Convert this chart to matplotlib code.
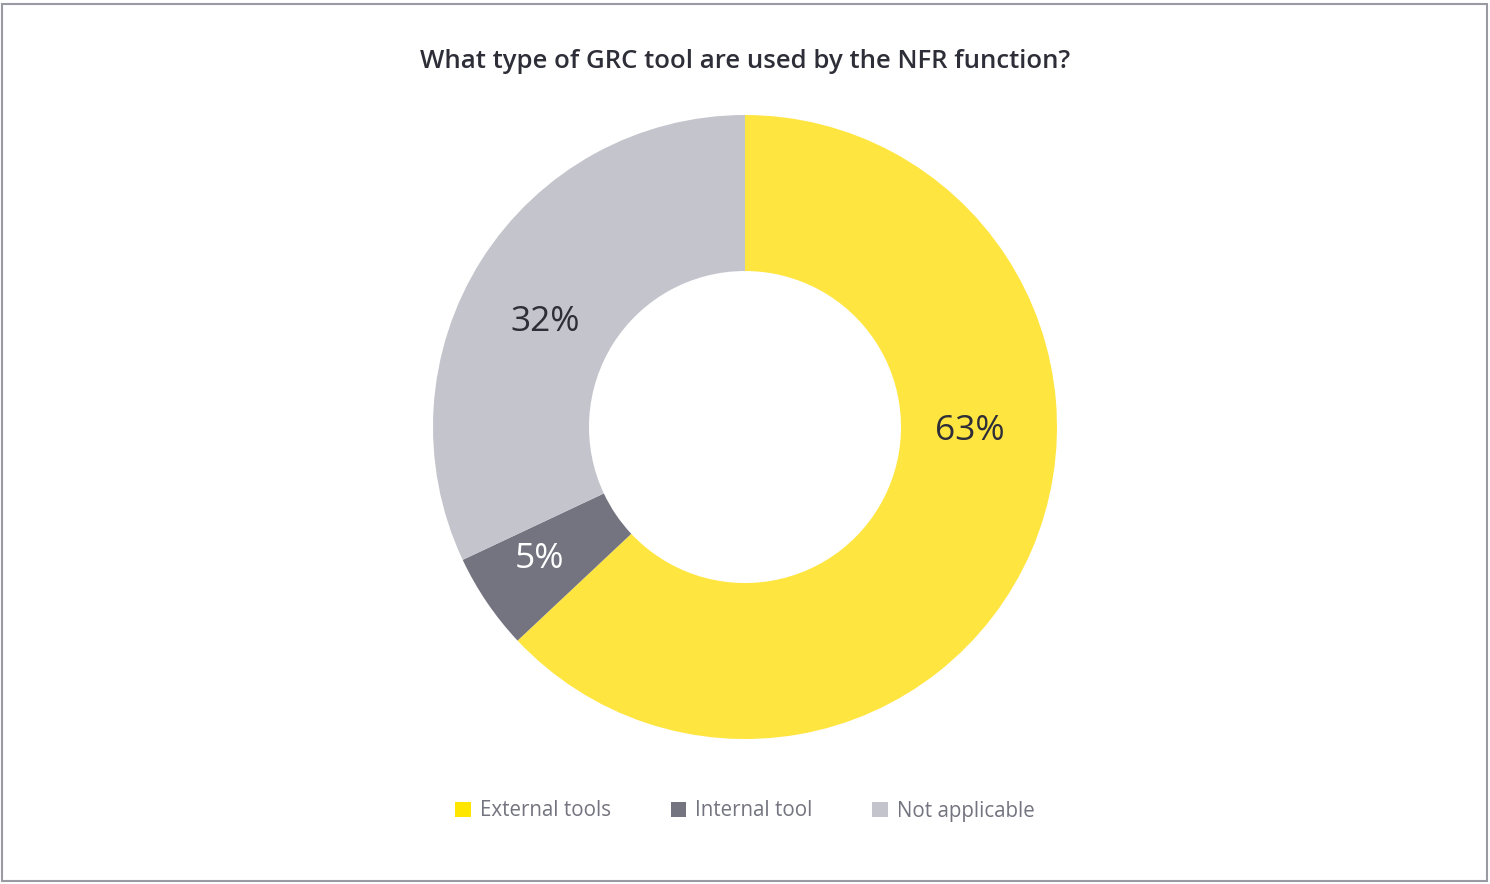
import matplotlib.pyplot as plt
from matplotlib.patches import Patch, Rectangle

plt.rcParams['font.family'] = ['Open Sans', 'DejaVu Sans']

categories = ['External tools', 'Internal tool', 'Not applicable']
shares = [63, 5, 32]
colors = ['#FFE540', '#747480', '#C4C4CD']
legend_colors = ['#FFE600', '#747480', '#C4C4CD']
label_colors = ['#2E2E38', 'white', '#2E2E38']
# where each percentage sits inside the ring (x, y in pie units)
label_pos = [(0.72, -0.012), (-0.66, -0.422), (-0.64, 0.338)]

fig = plt.figure(figsize=(14.9, 8.84), dpi=100)

# thin frame round the whole figure
fig.patches.append(Rectangle((0.0015, 0.003), 0.9965, 0.993, transform=fig.transFigure,
                             fill=False, edgecolor='#9A9AA2', linewidth=1.5))

ax = fig.add_axes([0.2906, 0.164, 0.4188, 0.7059])
wedges, texts, pcts = ax.pie(shares, colors=colors, startangle=90, counterclock=False,
                             radius=1, wedgeprops=dict(width=0.5, linewidth=0),
                             autopct='%d%%', pctdistance=0.75)
for t, c, p in zip(pcts, label_colors, label_pos):
    t.set_color(c)
    t.set_fontsize(25.5)
    t.set_position(p)
ax.set_xlim(-1, 1)
ax.set_ylim(-1, 1)
ax.set_aspect('equal')

fig.text(0.5, 1 - 61 / 884, 'What type of GRC tool are used by the NFR function?',
         ha='center', va='center', fontsize=18.5, fontweight='semibold', color='#2E2E38')

handles = [Patch(facecolor=c, edgecolor='none') for c in legend_colors]
leg = fig.legend(handles, categories, loc='center', bbox_to_anchor=(0.5, 1 - 811 / 884),
                 ncol=3, frameon=False, fontsize=14.8, handlelength=0.75, handleheight=0.75,
                 handletextpad=0.45, columnspacing=2.9)
for t in leg.get_texts():
    t.set_color('#747480')

fig.savefig('out.png', dpi=100)
